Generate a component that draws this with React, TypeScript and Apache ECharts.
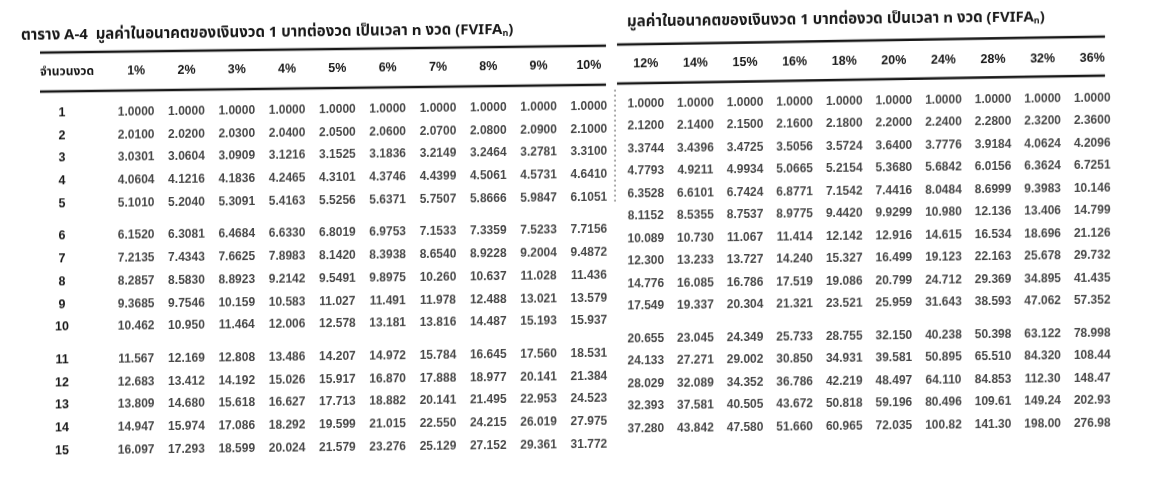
import React, { useEffect, useRef } from "react";
import * as echarts from "echarts";

const periods = ["1", "2", "3", "4", "5", "6", "7", "8", "9", "10", "11", "12", "13", "14", "15"];
const leftRates = ["1%", "2%", "3%", "4%", "5%", "6%", "7%", "8%", "9%", "10%"];
const rightRates = ["12%", "14%", "15%", "16%", "18%", "20%", "24%", "28%", "32%", "36%"];
const leftTitle = "ตาราง A-4  มูลค่าในอนาคตของเงินงวด 1 บาทต่องวด เป็นเวลา n งวด (FVIFA";
const rightTitle = "มูลค่าในอนาคตของเงินงวด 1 บาทต่องวด เป็นเวลา n งวด (FVIFA";
const titleSub = "n";
const periodHeader = "จำนวนงวด";

const leftValues = [
  [1.0, 1.0, 1.0, 1.0, 1.0, 1.0, 1.0, 1.0, 1.0, 1.0],
  [2.01, 2.02, 2.03, 2.04, 2.05, 2.06, 2.07, 2.08, 2.09, 2.1],
  [3.0301, 3.0604, 3.0909, 3.1216, 3.1525, 3.1836, 3.2149, 3.2464, 3.2781, 3.31],
  [4.0604, 4.1216, 4.1836, 4.2465, 4.3101, 4.3746, 4.4399, 4.5061, 4.5731, 4.641],
  [5.101, 5.204, 5.3091, 5.4163, 5.5256, 5.6371, 5.7507, 5.8666, 5.9847, 6.1051],
  [6.152, 6.3081, 6.4684, 6.633, 6.8019, 6.9753, 7.1533, 7.3359, 7.5233, 7.7156],
  [7.2135, 7.4343, 7.6625, 7.8983, 8.142, 8.3938, 8.654, 8.9228, 9.2004, 9.4872],
  [8.2857, 8.583, 8.8923, 9.2142, 9.5491, 9.8975, 10.26, 10.637, 11.028, 11.436],
  [9.3685, 9.7546, 10.159, 10.583, 11.027, 11.491, 11.978, 12.488, 13.021, 13.579],
  [10.462, 10.95, 11.464, 12.006, 12.578, 13.181, 13.816, 14.487, 15.193, 15.937],
  [11.567, 12.169, 12.808, 13.486, 14.207, 14.972, 15.784, 16.645, 17.56, 18.531],
  [12.683, 13.412, 14.192, 15.026, 15.917, 16.87, 17.888, 18.977, 20.141, 21.384],
  [13.809, 14.68, 15.618, 16.627, 17.713, 18.882, 20.141, 21.495, 22.953, 24.523],
  [14.947, 15.974, 17.086, 18.292, 19.599, 21.015, 22.55, 24.215, 26.019, 27.975],
  [16.097, 17.293, 18.599, 20.024, 21.579, 23.276, 25.129, 27.152, 29.361, 31.772],
];

const rightValues = [
  [1.0, 1.0, 1.0, 1.0, 1.0, 1.0, 1.0, 1.0, 1.0, 1.0],
  [2.12, 2.14, 2.15, 2.16, 2.18, 2.2, 2.24, 2.28, 2.32, 2.36],
  [3.3744, 3.4396, 3.4725, 3.5056, 3.5724, 3.64, 3.7776, 3.9184, 4.0624, 4.2096],
  [4.7793, 4.9211, 4.9934, 5.0665, 5.2154, 5.368, 5.6842, 6.0156, 6.3624, 6.7251],
  [6.3528, 6.6101, 6.7424, 6.8771, 7.1542, 7.4416, 8.0484, 8.6999, 9.3983, 10.146],
  [8.1152, 8.5355, 8.7537, 8.9775, 9.442, 9.9299, 10.98, 12.136, 13.406, 14.799],
  [10.089, 10.73, 11.067, 11.414, 12.142, 12.916, 14.615, 16.534, 18.696, 21.126],
  [12.3, 13.233, 13.727, 14.24, 15.327, 16.499, 19.123, 22.163, 25.678, 29.732],
  [14.776, 16.085, 16.786, 17.519, 19.086, 20.799, 24.712, 29.369, 34.895, 41.435],
  [17.549, 19.337, 20.304, 21.321, 23.521, 25.959, 31.643, 38.593, 47.062, 57.352],
  [20.655, 23.045, 24.349, 25.733, 28.755, 32.15, 40.238, 50.398, 63.122, 78.998],
  [24.133, 27.271, 29.002, 30.85, 34.931, 39.581, 50.895, 65.51, 84.32, 108.44],
  [28.029, 32.089, 34.352, 36.786, 42.219, 48.497, 64.11, 84.853, 112.3, 148.47],
  [32.393, 37.581, 40.505, 43.672, 50.818, 59.196, 80.496, 109.61, 149.24, 202.93],
  [37.28, 43.842, 47.58, 51.66, 60.965, 72.035, 100.82, 141.3, 198.0, 276.98],
];

const NUM_FONT = "'Liberation Sans',Arial,sans-serif";
const THAI_FONT = "'Noto Sans Thai','Liberation Sans',sans-serif";
const INK = "#181818";

export default function App() {
  const ref = useRef<HTMLDivElement>(null);

  useEffect(() => {
    if (!ref.current) return;
    const chart = echarts.init(ref.current, undefined, { renderer: "svg" });

    const sides = [
      { rates: leftRates, values: leftValues, left: 111, width: 503, tops: [94.6, 218.1, 341.6], height: 113.5, showRows: true, headMargin: 29.6 },
      { rates: rightRates, values: rightValues, left: 621, width: 496, tops: [92.7, 205.2, 327.7], height: 112.5, showRows: false, headMargin: 28.7 },
    ];

    const grids: any[] = [];
    const xAxes: any[] = [];
    const yAxes: any[] = [];
    const series: any[] = [];

    sides.forEach((side, s) => {
      for (let g = 0; g < 3; g++) {
        const idx = s * 3 + g;
        grids.push({ left: side.left, width: side.width, top: side.tops[g], height: side.height });
        xAxes.push({
          type: "category",
          gridIndex: idx,
          position: "top",
          data: side.rates,
          axisLine: { show: false },
          axisTick: { show: false },
          splitLine: { show: false },
          axisLabel: {
            show: g === 0,
            margin: side.headMargin,
            verticalAlign: "middle",
            color: INK,
            fontFamily: NUM_FONT,
            fontWeight: "bold",
            fontSize: 12.5,
          },
        });
        const rowCats = periods.slice(g * 5, g * 5 + 5);
        yAxes.push({
          type: "category",
          gridIndex: idx,
          inverse: true,
          data: rowCats,
          axisLine: { show: false },
          axisTick: { show: false },
          splitLine: { show: false },
          axisLabel: {
            show: side.showRows,
            margin: 49,
            align: "center",
            color: INK,
            fontFamily: NUM_FONT,
            fontWeight: "bold",
            fontSize: 12.5,
          },
        });
        const data: any[] = [];
        rowCats.forEach((_, r) => {
          side.values[g * 5 + r].forEach((v, c) => {
            data.push([c, r, v]);
          });
        });
        series.push({
          type: "scatter",
          xAxisIndex: idx,
          yAxisIndex: idx,
          symbolSize: 1,
          itemStyle: { color: "rgba(0,0,0,0)" },
          silent: true,
          data,
          label: {
            show: true,
            position: "inside",
            formatter: (p: any) => Number(p.value[2]).toPrecision(5),
            color: INK,
            fontFamily: NUM_FONT,
            fontWeight: "bold",
            fontSize: 12,
          },
        });
      }
    });

    const titleRich = {
      a: { fontFamily: THAI_FONT, fontWeight: "bold", fontSize: 15, color: INK },
      s: { fontFamily: THAI_FONT, fontWeight: "bold", fontSize: 9, color: INK, padding: [9, 0, 0, 0] },
    };

    chart.setOption({
      animation: false,
      backgroundColor: "#ffffff",
      title: [
        {
          left: 16,
          top: 14,
          text: `{a|${leftTitle}}{s|${titleSub}}{a|)}`,
          textStyle: { rich: titleRich },
        },
        {
          left: 622,
          top: 8,
          text: `{a|${rightTitle}}{s|${titleSub}}{a|)}`,
          textStyle: { rich: titleRich },
        },
      ],
      grid: grids,
      xAxis: xAxes,
      yAxis: yAxes,
      series,
      graphic: [
        { type: "line", shape: { x1: 40, y1: 46, x2: 606, y2: 46 }, style: { stroke: INK, lineWidth: 2.5 } },
        { type: "line", shape: { x1: 40, y1: 85, x2: 606, y2: 85 }, style: { stroke: INK, lineWidth: 2.5 } },
        { type: "line", shape: { x1: 617, y1: 45, x2: 1105, y2: 43 }, style: { stroke: INK, lineWidth: 2.5 } },
        { type: "line", shape: { x1: 617, y1: 84, x2: 1105, y2: 82 }, style: { stroke: INK, lineWidth: 2.5 } },
        { type: "line", shape: { x1: 615, y1: 90, x2: 615, y2: 205 }, style: { stroke: "#555", lineWidth: 1, lineDash: [2, 3] } },
        {
          type: "text",
          x: 67,
          y: 65,
          style: {
            text: periodHeader,
            fill: INK,
            font: `bold 12px ${THAI_FONT}`,
            textAlign: "center",
            textVerticalAlign: "middle",
          },
        },
      ],
    });

    return () => chart.dispose();
  }, []);

  return (
    <div
      ref={ref}
      style={{
        position: "fixed",
        left: 0,
        top: 0,
        width: 1164,
        height: 492,
        background: "#fff",
        transform: "skewY(-0.7deg)",
        transformOrigin: "582px 246px",
      }}
    />
  );
}
